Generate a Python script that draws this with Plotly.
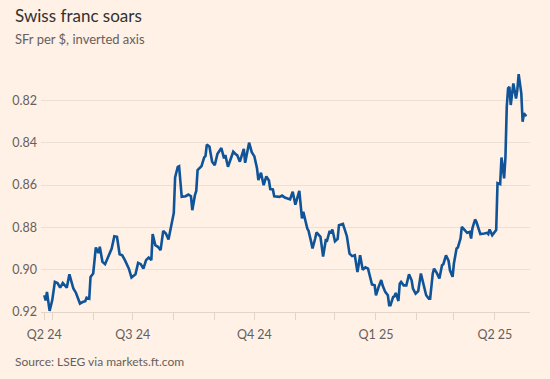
import pandas as pd
import plotly.graph_objects as go

# ---- data -------------------------------------------------------------
start_date = "2024-04-25"
# calendar-day offsets from start_date for each sampled observation
day_offsets = [
    0, 1, 2, 4, 6, 8, 10, 12, 14, 17, 19, 22, 24, 27, 29, 31, 32, 34, 35, 37,
    39, 41, 42, 44, 46, 48, 49, 51, 53, 55, 57, 59, 61, 63, 64, 66, 69, 71, 73, 75,
    77, 79, 81, 82, 84, 86, 88, 90, 92, 94, 96, 98, 99, 101, 102, 104, 107, 109, 111, 112,
    114, 115, 116, 118, 119, 121, 122, 123, 125, 127, 129, 131, 134, 136, 137, 139, 140, 143, 145, 146,
    148, 151, 152, 155, 157, 159, 161, 162, 164, 165, 166, 168, 170, 171, 173, 174, 178, 180, 182, 186,
    188, 190, 192, 193, 195, 196, 199, 200, 202, 203, 205, 206, 209, 210, 211, 213, 214, 216, 217, 218,
    220, 222, 223, 226, 228, 229, 231, 233, 235, 237, 238, 239, 241, 243, 245, 246, 248, 250, 251, 253,
    255, 256, 258, 260, 261, 262, 264, 265, 266, 268, 269, 270, 272, 274, 276, 278, 279, 281, 283, 285,
    287, 289, 291, 292, 294, 295, 297, 299, 301, 302, 304, 306, 307, 309, 310, 312, 313, 315, 316, 318,
    320, 322, 323, 324, 326, 327, 329, 330, 333, 335, 336, 337, 339, 340, 342, 343, 345, 346, 348, 349,
    350, 351, 352, 353, 355, 357, 358, 359, 361, 362, 363, 364, 365,
]
sfr_per_usd = [
    0.9121, 0.9145, 0.9105, 0.9195, 0.9145, 0.9058, 0.9063, 0.9085, 0.9063, 0.9085,
    0.9022, 0.9089, 0.9110, 0.9160, 0.9153, 0.9149, 0.9132, 0.9137, 0.9034, 0.9018,
    0.8895, 0.8921, 0.8892, 0.8963, 0.8974, 0.8943, 0.8936, 0.8900, 0.8842, 0.8845,
    0.8927, 0.8932, 0.8955, 0.8984, 0.8995, 0.9037, 0.9022, 0.8968, 0.8974, 0.8995,
    0.8955, 0.8943, 0.8955, 0.8832, 0.8884, 0.8892, 0.8908, 0.8817, 0.8829, 0.8857,
    0.8790, 0.8732, 0.8564, 0.8514, 0.8511, 0.8656, 0.8653, 0.8645, 0.8653, 0.8719,
    0.8648, 0.8628, 0.8530, 0.8514, 0.8511, 0.8470, 0.8463, 0.8409, 0.8419, 0.8490,
    0.8507, 0.8454, 0.8425, 0.8474, 0.8459, 0.8514, 0.8498, 0.8443, 0.8456, 0.8459,
    0.8490, 0.8429, 0.8495, 0.8400, 0.8445, 0.8465, 0.8522, 0.8577, 0.8542, 0.8582,
    0.8601, 0.8559, 0.8579, 0.8619, 0.8621, 0.8653, 0.8656, 0.8650, 0.8659, 0.8668,
    0.8632, 0.8693, 0.8643, 0.8628, 0.8758, 0.8727, 0.8805, 0.8817, 0.8870, 0.8900,
    0.8853, 0.8824, 0.8845, 0.8892, 0.8938, 0.8861, 0.8863, 0.8816, 0.8829, 0.8810,
    0.8866, 0.8855, 0.8790, 0.8784, 0.8829, 0.8842, 0.8924, 0.8936, 0.8932, 0.9011,
    0.8974, 0.8932, 0.9001, 0.8989, 0.8995, 0.9022, 0.9070, 0.9074, 0.9121, 0.9082,
    0.9049, 0.9074, 0.9105, 0.9121, 0.9168, 0.9168, 0.9129, 0.9126, 0.9110, 0.9148,
    0.9066, 0.9058, 0.9074, 0.9074, 0.9022, 0.9050, 0.9089, 0.9113, 0.9101, 0.9018,
    0.9074, 0.9121, 0.9137, 0.9137, 0.9018, 0.8995, 0.9015, 0.9042, 0.8979, 0.8974,
    0.8932, 0.8959, 0.9003, 0.9034, 0.8971, 0.8900, 0.8895, 0.8853, 0.8798, 0.8813,
    0.8826, 0.8822, 0.8853, 0.8805, 0.8763, 0.8774, 0.8817, 0.8832, 0.8829, 0.8826,
    0.8832, 0.8810, 0.8837, 0.8829, 0.8813, 0.8591, 0.8596, 0.8470, 0.8569, 0.8467,
    0.8230, 0.8143, 0.8136, 0.8222, 0.8120, 0.8191, 0.8151, 0.8076, 0.8167, 0.8301,
    0.8261, 0.8270, 0.8274,
]
y_ticks = [0.82, 0.84, 0.86, 0.88, 0.90, 0.92]
y_tick_labels = ["0.82", "0.84", "0.86", "0.88", "0.90", "0.92"]
x_tick_dates = ["2024-04-25", "2024-07-01", "2024-10-01", "2025-01-01", "2025-04-01"]
x_tick_labels = ["Q2 24", "Q3 24", "Q4 24", "Q1 25", "Q2 25"]

dates = pd.to_datetime(start_date) + pd.to_timedelta(day_offsets, unit="D")

# ---- style ------------------------------------------------------------
BG = "#fff1e5"
GRID = "#eddfd2"
TICK = "#e3d4c6"
MUTED = "#66605c"
FONT = "Lato, 'Noto Sans', sans-serif"

fig = go.Figure()
fig.add_trace(go.Scatter(
    x=dates, y=sfr_per_usd, mode="lines",
    line=dict(color="#0f5499", width=2.6),
    hoverinfo="skip", showlegend=False,
))

fig.update_layout(
    width=550, height=379,
    paper_bgcolor=BG, plot_bgcolor=BG,
    margin=dict(l=33, r=20, t=58, b=67),
    font=dict(family=FONT, color=MUTED, size=12.5),
    showlegend=False,
)

fig.update_xaxes(
    type="date",
    range=["2024-04-22 12:00", "2025-04-27 14:00"],
    tickvals=x_tick_dates, ticktext=x_tick_labels,
    ticks="outside", ticklen=7, tickcolor=TICK, tickwidth=1,
    minor=dict(dtick="M1", tick0="2024-05-01", ticks="outside",
               ticklen=7, tickcolor=TICK, tickwidth=1, showgrid=False),
    showgrid=False, zeroline=False,
    showline=True, linecolor=TICK, linewidth=1,
    ticklabelstandoff=4,
    tickfont=dict(size=12.5, color=MUTED),
)
fig.update_yaxes(
    range=[0.92, 0.80],
    tickvals=y_ticks, ticktext=y_tick_labels,
    showgrid=True, gridcolor=GRID, gridwidth=1,
    zeroline=False, showline=False, ticks="",
    ticklabelstandoff=3,
    tickfont=dict(size=12.5, color=MUTED),
)

# title, subtitle, source
fig.add_annotation(text="Swiss franc soars", xref="paper", yref="paper",
                   x=-0.0564, y=1.1667, xanchor="left", yanchor="middle",
                   showarrow=False, font=dict(size=17, color="#33302e", family=FONT))
fig.add_annotation(text="SFr per $, inverted axis", xref="paper", yref="paper",
                   x=-0.0564, y=1.0749, xanchor="left", yanchor="middle",
                   showarrow=False, font=dict(size=13, color=MUTED, family=FONT))
fig.add_annotation(text="Source: LSEG via markets.ft.com", xref="paper", yref="paper",
                   x=-0.0564, y=-0.194, xanchor="left", yanchor="middle",
                   showarrow=False, font=dict(size=12, color=MUTED, family=FONT))

# remove the page's default body margin so the figure sits at the window origin
fig.write_html(
    "out.html",
    config={"displayModeBar": False, "staticPlot": True},
    post_script="document.body.style.margin='0';document.body.style.padding='0';"
                "document.documentElement.style.background='#fff1e5';",
)
